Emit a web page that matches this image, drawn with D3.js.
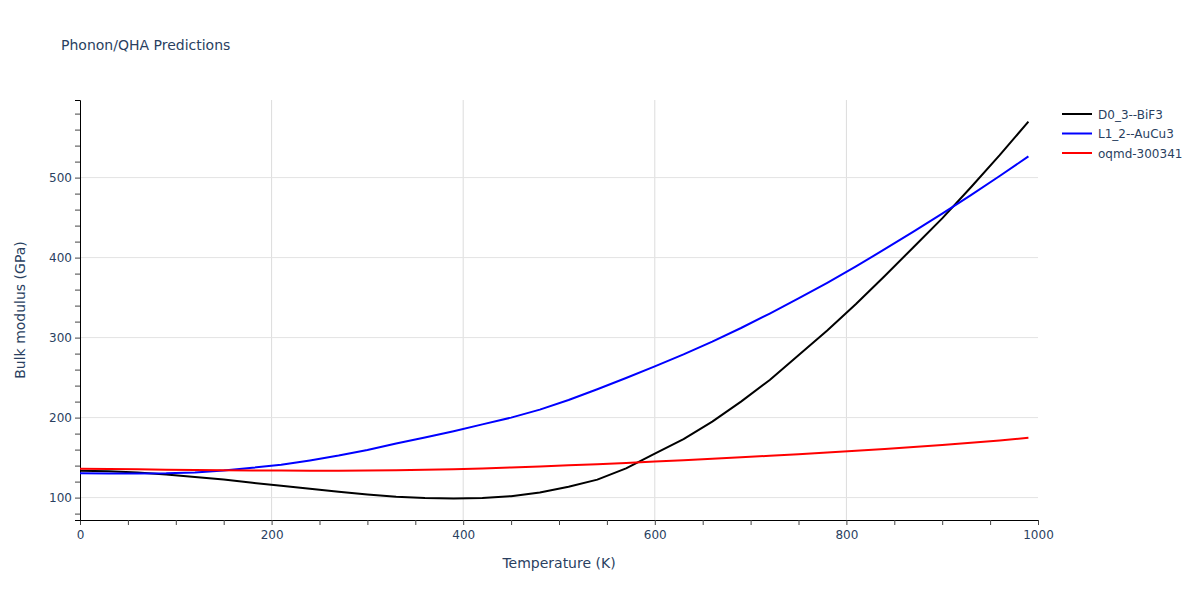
<!DOCTYPE html>
<html>
<head>
<meta charset="utf-8">
<script src="https://cdn.jsdelivr.net/npm/d3@7"></script>
<style>
  body { margin: 0; background: #fff; }
  text { font-family: "DejaVu Sans", Verdana, sans-serif; fill: #2a3f5f; }
</style>
</head>
<body>
<div id="chart"></div>
<script>
// temperatures (K) shared by all three series
var temps = [0, 30, 60, 90, 120, 150, 180, 210, 240, 270, 300, 330, 360, 390, 420, 450, 480,
             510, 540, 570, 600, 630, 660, 690, 720, 750, 780, 810, 840, 870, 900, 930, 960, 990];

// bulk modulus (GPa)
var bif3 = [133.5, 132.8, 131.5, 128.8, 125.8, 122.5, 118.5, 114.8, 111, 107.3, 103.8, 101, 99.4,
            98.8, 99.5, 101.8, 106.5, 113.5, 122.5, 136.5, 155, 173, 195, 220, 247, 278, 309, 342,
            377, 413, 449, 488, 528, 570];
var aucu3 = [130.4, 130.2, 130, 130.3, 131.5, 134, 137.3, 141, 146.5, 152.5, 159.5, 167.5, 175,
             183, 191.5, 200, 210, 222, 235.5, 249.5, 264, 279, 295, 312, 330, 349, 368.5, 389,
             410.5, 432.5, 455, 478, 502, 526.5];
var oqmd = [136.2, 135.8, 135.3, 134.9, 134.5, 134.2, 134, 133.8, 133.7, 133.7, 133.8, 134.1, 134.7,
            135.5, 136.5, 137.6, 138.9, 140.3, 141.8, 143.4, 145, 146.8, 148.6, 150.4, 152.3, 154.3,
            156.4, 158.6, 160.9, 163.3, 165.8, 168.5, 171.5, 174.8];

var seriesNames = ["D0_3--BiF3", "L1_2--AuCu3", "oqmd-300341"];
var seriesColors = ["#000000", "#0000ff", "#ff0000"];
var seriesValues = [bif3, aucu3, oqmd];

var xTicks = [0, 200, 400, 600, 800, 1000];
var yTicks = [100, 200, 300, 400, 500];

var width = 1200, height = 600;
var margin = { top: 100, right: 162, bottom: 80, left: 80 };

var svg = d3.select("#chart")
    .append("svg")
    .attr("width", width)
    .attr("height", height);

var x = d3.scaleLinear()
    .domain([0, 1000])
    .range([margin.left, width - margin.right]);

var y = d3.scaleLinear()
    .domain([72, 597])
    .range([height - margin.bottom, margin.top]);

// grid
svg.append("g")
    .selectAll("line")
    .data(xTicks.filter(function(d) { return d > 0 && d < 1000; }))
    .enter()
    .append("line")
      .attr("x1", function(d) { return x(d) })
      .attr("x2", function(d) { return x(d) })
      .attr("y1", margin.top)
      .attr("y2", height - margin.bottom)
      .style("stroke", "#dcdcdc")
      .style("stroke-width", 1)

svg.append("g")
    .selectAll("line")
    .data(yTicks)
    .enter()
    .append("line")
      .attr("x1", margin.left)
      .attr("x2", width - margin.right)
      .attr("y1", function(d) { return y(d) })
      .attr("y2", function(d) { return y(d) })
      .style("stroke", "#e3e3e3")
      .style("stroke-width", 1)

// axes: labelled ticks plus unlabelled minor ticks
var xAxis = svg.append("g")
    .attr("transform", "translate(0," + (height - margin.bottom) + ")")
    .call(d3.axisBottom(x).tickValues(d3.range(0, 1001, 50)).tickSize(5)
        .tickFormat(function(d) { return d % 200 === 0 ? d : ""; }));

var yAxis = svg.append("g")
    .attr("transform", "translate(" + margin.left + ",0)")
    .call(d3.axisLeft(y).tickValues(d3.range(80, 597, 20)).tickSize(5)
        .tickFormat(function(d) { return d % 100 === 0 ? d : ""; }));

[xAxis, yAxis].forEach(function(g) {
    g.select(".domain").style("stroke", "#000").style("stroke-width", 1);
    g.selectAll(".tick line").style("stroke", "#444");
    g.selectAll("text")
        .style("font-family", "'DejaVu Sans', Verdana, sans-serif")
        .style("font-size", "12px")
        .style("fill", "#2a3f5f");
});
xAxis.selectAll("text").attr("y", 10);
yAxis.selectAll("text").attr("x", -8);

// lines
var line = d3.line()
    .x(function(d) { return x(d[0]) })
    .y(function(d) { return y(d[1]) });

seriesValues.forEach(function(vals, i) {
    svg.append("path")
        .datum(temps.map(function(t, j) { return [t, vals[j]]; }))
        .attr("d", line)
        .style("fill", "none")
        .style("stroke", seriesColors[i])
        .style("stroke-width", 2)
        .style("stroke-linejoin", "round");
});

// titles
svg.append("text")
    .attr("x", 61)
    .attr("y", 50)
    .style("font-size", "14px")
    .text("Phonon/QHA Predictions");

svg.append("text")
    .attr("x", (x(0) + x(1000)) / 2)
    .attr("y", 568)
    .attr("text-anchor", "middle")
    .style("font-size", "14px")
    .text("Temperature (K)");

svg.append("text")
    .attr("transform", "translate(25," + ((y(72) + y(597)) / 2) + ") rotate(-90)")
    .attr("text-anchor", "middle")
    .style("font-size", "14px")
    .text("Bulk modulus (GPa)");

// legend
var legend = svg.append("g")
    .selectAll("g")
    .data(seriesNames)
    .enter()
    .append("g")
      .attr("transform", function(d, i) { return "translate(1062," + (114 + i * 19.5) + ")"; });

legend.append("line")
    .attr("x1", 0)
    .attr("x2", 30)
    .style("stroke", function(d, i) { return seriesColors[i] })
    .style("stroke-width", 2);

legend.append("text")
    .attr("x", 36)
    .attr("y", 4.5)
    .style("font-size", "12px")
    .text(function(d) { return d });
</script>
</body>
</html>
